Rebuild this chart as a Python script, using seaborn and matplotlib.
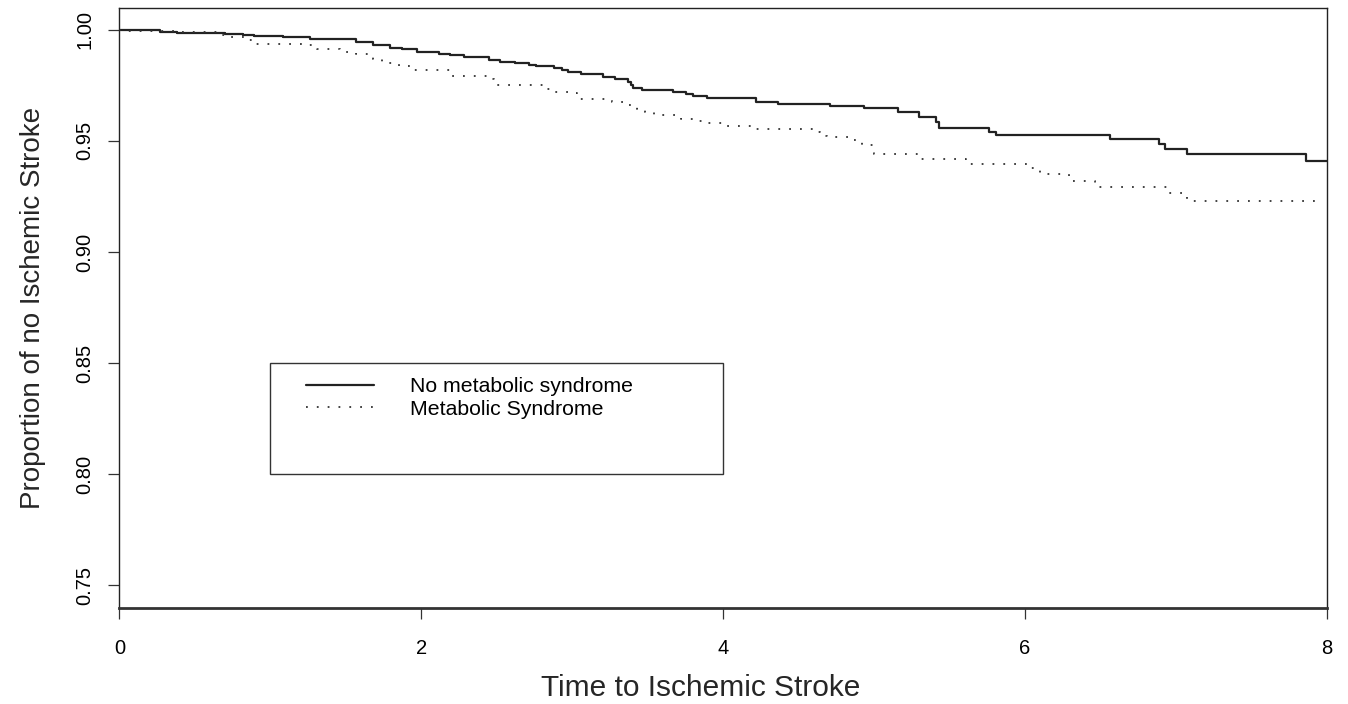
import matplotlib
matplotlib.use("Agg")
import matplotlib.pyplot as plt
from matplotlib.patches import Rectangle
import numpy as np
import pandas as pd
import seaborn as sns

# ---- data ----
group_labels = ["No metabolic syndrome", "Metabolic Syndrome"]

time_no_mets = [0.00, 0.27, 0.38, 0.70, 0.82, 0.89, 1.08, 1.26, 1.57, 1.68, 1.79, 1.87,
                1.97, 2.12, 2.19, 2.28, 2.45, 2.52, 2.62, 2.71, 2.76, 2.88, 2.93, 2.97,
                3.06, 3.20, 3.28, 3.37, 3.39, 3.40, 3.46, 3.67, 3.75, 3.80, 3.89, 4.22,
                4.36, 4.71, 4.93, 5.16, 5.30, 5.41, 5.43, 5.76, 5.81, 6.56, 6.89, 6.93,
                7.07, 7.86, 8.00]
surv_no_mets = [1.0000, 0.9990, 0.9986, 0.9980, 0.9977, 0.9972, 0.9966, 0.9960, 0.9943,
                0.9932, 0.9920, 0.9913, 0.9900, 0.9893, 0.9887, 0.9878, 0.9866, 0.9857,
                0.9850, 0.9842, 0.9835, 0.9826, 0.9817, 0.9812, 0.9802, 0.9788, 0.9778,
                0.9763, 0.9751, 0.9740, 0.9731, 0.9722, 0.9712, 0.9700, 0.9692, 0.9677,
                0.9665, 0.9655, 0.9647, 0.9632, 0.9607, 0.9587, 0.9560, 0.9542, 0.9527,
                0.9508, 0.9485, 0.9464, 0.9441, 0.9411, 0.9411]

time_mets = [0.00, 0.03, 0.40, 0.67, 0.74, 0.85, 0.875, 1.21, 1.31, 1.46, 1.57, 1.68,
             1.74, 1.85, 1.93, 2.19, 2.44, 2.48, 2.81, 2.87, 2.97, 3.03, 3.05, 3.26,
             3.36, 3.43, 3.48, 3.54, 3.69, 3.72, 3.84, 3.89, 4.01, 4.22, 4.62, 4.64,
             4.69, 4.84, 4.88, 4.92, 4.99, 5.00, 5.30, 5.61, 6.02, 6.10, 6.29, 6.46,
             6.95, 7.07, 7.95]
surv_mets = [1.0000, 0.9993, 0.9988, 0.9977, 0.9966, 0.9955, 0.9936, 0.9930, 0.9913,
             0.9900, 0.9889, 0.9868, 0.9850, 0.9838, 0.9821, 0.9790, 0.9780, 0.9750,
             0.9733, 0.9722, 0.9715, 0.9694, 0.9688, 0.9677, 0.9660, 0.9643, 0.9630,
             0.9617, 0.9610, 0.9598, 0.9591, 0.9580, 0.9568, 0.9553, 0.9540, 0.9524,
             0.9517, 0.9505, 0.9495, 0.9482, 0.9463, 0.9440, 0.9418, 0.9397, 0.9377,
             0.9350, 0.9321, 0.9294, 0.9264, 0.9231, 0.9231]

x_ticks = [0, 2, 4, 6, 8]
y_ticks = [0.75, 0.80, 0.85, 0.90, 0.95, 1.00]
y_tick_labels = ["0.75", "0.80", "0.85", "0.90", "0.95", "1.00"]

df = pd.concat([
    pd.DataFrame({"time": time_no_mets, "surv": surv_no_mets, "group": group_labels[0]}),
    pd.DataFrame({"time": time_mets, "surv": surv_mets, "group": group_labels[1]}),
], ignore_index=True)

# ---- style ----
sns.set_style("white")
plt.rcParams["font.family"] = ["Liberation Sans", "DejaVu Sans"]

fig = plt.figure(figsize=(13.48, 7.04), dpi=100)
ax = fig.add_axes([119.5 / 1348, 1 - 607.5 / 704, (1327 - 119.5) / 1348, (607.5 - 7.5) / 704])

d0 = df[df["group"] == group_labels[0]]
d1 = df[df["group"] == group_labels[1]]
sns.lineplot(data=d0, x="time", y="surv", ax=ax, drawstyle="steps-post",
             color="#222222", linewidth=1.6, estimator=None, sort=True,
             label=group_labels[0])
sns.lineplot(data=d1, x="time", y="surv", ax=ax, drawstyle="steps-post",
             color="#333333", linewidth=1.3, linestyle=(0, (1, 5)),
             estimator=None, sort=True, label=group_labels[1])

ax.set_xlim(0, 8)
ax.set_ylim(0.74, 1.01)
ax.set_xticks(x_ticks)
ax.set_xticklabels([str(t) for t in x_ticks], fontsize=14.5)
ax.set_yticks(y_ticks)
ax.set_yticklabels(y_tick_labels, fontsize=14.5, rotation=90, va="center")
ax.tick_params(axis="x", bottom=True, direction="out", length=8, width=0.9,
               pad=15, color="#333333", labelcolor="black")
ax.tick_params(axis="y", left=True, direction="out", length=8, width=0.9,
               pad=10, color="#333333", labelcolor="black")

for s in ["left", "right", "top"]:
    ax.spines[s].set_color("#222222")
    ax.spines[s].set_linewidth(1.0)
    ax.spines[s].set_visible(True)
ax.spines["bottom"].set_color("#333333")
ax.spines["bottom"].set_linewidth(2.0)

ax.set_xlabel("Time to Ischemic Stroke", fontsize=21.5)
ax.xaxis.set_label_coords(0.4816, -0.1116)
ax.set_ylabel("Proportion of no Ischemic Stroke", fontsize=20, labelpad=21)

# legend box (R style, taller than its content)
ax.add_patch(Rectangle((1.0, 0.80), 3.0, 0.05, fill=False, edgecolor="#333333",
                       linewidth=1.0, zorder=3))
leg = ax.legend(loc="upper left", bbox_to_anchor=(1.233, 0.8435),
                bbox_transform=ax.transData, frameon=False, fontsize=15.3,
                handlelength=3.2, handletextpad=1.7, labelspacing=0.15,
                borderaxespad=0, borderpad=0)
for t in leg.get_texts():
    t.set_color("black")

fig.savefig("out.png", dpi=100, facecolor="white")
